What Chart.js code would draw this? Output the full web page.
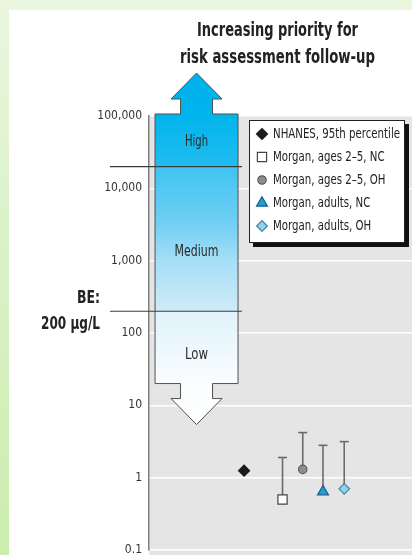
<!DOCTYPE html>
<html>
<head>
<meta charset="utf-8">
<script src="https://cdn.jsdelivr.net/npm/chart.js@4/dist/chart.umd.min.js"></script>
<style>
html, body { margin: 0; padding: 0; }
body { width: 412px; height: 555px; overflow: hidden; position: relative;
       background: linear-gradient(to bottom, #eaf6df 0%, #dcf2ca 40%, #cbedae 100%); }
#panel { position: absolute; left: 9px; top: 10px; width: 403px; height: 545px; background: #fff; }
</style>
</head>
<body>
<div id="panel"><canvas id="beChart" width="403" height="545"></canvas></div>
<script>
// chart values
var seriesLabels = ["NHANES, 95th percentile", "Morgan, ages 2–5, NC", "Morgan, ages 2–5, OH", "Morgan, adults, NC", "Morgan, adults, OH"];
var seriesValues = [1.25, 0.5, 1.3, 0.64, 0.7];
var seriesUpper = [null, 1.9, 4.2, 2.8, 3.15];
var seriesSlots = [4.7, 6.6, 7.6, 8.6, 9.65];
var yTicks = [0.1, 1, 10, 100, 1000, 10000, 100000];
var bandNames = ["Low", "Medium", "High"];
var bandLimits = [20, 200, 20000, 100000];
var bandLabelAt = [50, 1300, 44000];
var beValue = 200;
var titleLines = ["Increasing priority for", "risk assessment follow-up"];
var beLines = ["BE:", "200 μg/L"];

var pointStyles = ['rectRot', 'rect', 'circle', 'triangle', 'rectRot'];
var pointSizes = [5.5, 6.5, 4.2, 6.3, 5.3];
var fillColors = ['#1b1b1b', '#ffffff', '#8e8e8e', '#1e9fd8', '#8fd2f2'];
var edgeColors = ['#1b1b1b', '#444444', '#5a5a5a', '#1d5f86', '#4d7f9a'];

var narrow = '"Liberation Sans Narrow", "DejaVu Sans Condensed", "Liberation Sans", sans-serif';

function drawFit(ctx, text, x, y, width, align) {
    var w = ctx.measureText(text).width;
    var sx = width / w;
    ctx.save();
    ctx.translate(x, y);
    ctx.scale(sx, 1);
    ctx.textAlign = align;
    ctx.fillText(text, 0, 0);
    ctx.restore();
}

var datasets = seriesLabels.map(function (label, i) {
    return {
        type: 'scatter',
        label: label,
        data: [{x: seriesSlots[i], y: seriesValues[i]}],
        pointStyle: pointStyles[i],
        pointRadius: pointSizes[i],
        backgroundColor: fillColors[i],
        borderColor: edgeColors[i],
        borderWidth: 1.2
    };
});
seriesUpper.forEach(function (top, i) {
    if (top == null) return;
    datasets.push({
        type: 'line',
        label: 'range ' + i,
        data: [{x: seriesSlots[i], y: seriesValues[i]}, {x: seriesSlots[i], y: top}],
        borderColor: '#6b6b6b',
        borderWidth: 1.6,
        pointStyle: 'line',
        pointRadius: [0, 4.5],
        pointBorderColor: '#6b6b6b',
        pointBorderWidth: 1.6,
        fill: false
    });
});

var priorityPlugin = {
    id: 'priority',
    beforeDraw: function (chart) {
        var ctx = chart.ctx, a = chart.chartArea;
        ctx.save();
        ctx.fillStyle = '#e5e5e5';
        ctx.fillRect(a.left, a.top, chart.width - a.left, chart.height - a.top);
        ctx.restore();
    },
    beforeDatasetsDraw: function (chart) {
        var ctx = chart.ctx, a = chart.chartArea;
        var xs = chart.scales.x, ys = chart.scales.y;
        var cx = xs.getPixelForValue(2.35);
        var boxW = 41.5, stemW = 16, headW = 25.5, neck = 15, tip = 41;
        var top = ys.getPixelForValue(bandLimits[3]) - 2;
        var bottom = ys.getPixelForValue(bandLimits[0]);
        var hi = ys.getPixelForValue(bandLimits[2]);
        var be = ys.getPixelForValue(bandLimits[1]);
        var y0 = top - tip, y1 = bottom + tip, span = y1 - y0;
        function at(y) { return Math.min(1, Math.max(0, (y - y0) / span)); }

        var g = ctx.createLinearGradient(0, y0, 0, y1);
        g.addColorStop(0, '#00b0ea');
        g.addColorStop(at(top), '#00b4ec');
        g.addColorStop(at(hi - 0.5), '#22bcef');
        g.addColorStop(at(hi + 0.5), '#3ec4f1');
        g.addColorStop(at(ys.getPixelForValue(3000)), '#74d0f4');
        g.addColorStop(at(ys.getPixelForValue(1000)), '#a6def6');
        g.addColorStop(at(be - 0.5), '#cdebf8');
        g.addColorStop(at(be + 0.5), '#e0f3fb');
        g.addColorStop(at(bottom), '#fafdfe');
        g.addColorStop(1, '#ffffff');

        ctx.save();
        ctx.beginPath();
        ctx.moveTo(cx - boxW, top);
        ctx.lineTo(cx - stemW, top);
        ctx.lineTo(cx - stemW, top - neck);
        ctx.lineTo(cx - headW, top - neck);
        ctx.lineTo(cx, top - tip);
        ctx.lineTo(cx + headW, top - neck);
        ctx.lineTo(cx + stemW, top - neck);
        ctx.lineTo(cx + stemW, top);
        ctx.lineTo(cx + boxW, top);
        ctx.lineTo(cx + boxW, bottom);
        ctx.lineTo(cx + stemW, bottom);
        ctx.lineTo(cx + stemW, bottom + neck);
        ctx.lineTo(cx + headW, bottom + neck);
        ctx.lineTo(cx, bottom + tip);
        ctx.lineTo(cx - headW, bottom + neck);
        ctx.lineTo(cx - stemW, bottom + neck);
        ctx.lineTo(cx - stemW, bottom);
        ctx.lineTo(cx - boxW, bottom);
        ctx.closePath();
        ctx.fillStyle = g;
        ctx.fill();
        ctx.strokeStyle = '#505050';
        ctx.lineWidth = 1;
        ctx.stroke();

        // band boundaries
        ctx.strokeStyle = '#3c3c3c';
        ctx.lineWidth = 1.2;
        [hi, be].forEach(function (y) {
            ctx.beginPath();
            ctx.moveTo(a.left - 39, y);
            ctx.lineTo(cx + boxW + 4, y);
            ctx.stroke();
        });

        // band names
        ctx.fillStyle = '#2a2a2a';
        ctx.font = '15.5px ' + narrow;
        ctx.textBaseline = 'middle';
        var nameW = [23, 44, 23];
        bandNames.forEach(function (name, i) {
            drawFit(ctx, name, cx, ys.getPixelForValue(bandLabelAt[i]), nameW[i], 'center');
        });

        // BE label
        ctx.fillStyle = '#222';
        ctx.font = 'bold 17px ' + narrow;
        var beY = ys.getPixelForValue(beValue);
        drawFit(ctx, beLines[0], 91, beY - 13, 23, 'right');
        drawFit(ctx, beLines[1], 91, beY + 13, 59, 'right');

        // title
        ctx.font = 'bold 20px ' + narrow;
        ctx.textBaseline = 'alphabetic';
        drawFit(ctx, titleLines[0], 268.5, 26, 161, 'center');
        drawFit(ctx, titleLines[1], 268.5, 53, 195, 'center');
        ctx.restore();
    },
    afterDraw: function (chart) {
        var ctx = chart.ctx;
        var lx = 240, ly = 110, lw = 156, lh = 123;
        ctx.save();
        ctx.fillStyle = '#111';
        ctx.fillRect(lx + 4, ly + 4, lw, lh);
        ctx.fillStyle = '#fff';
        ctx.fillRect(lx, ly, lw, lh);
        ctx.strokeStyle = '#222';
        ctx.lineWidth = 1;
        ctx.strokeRect(lx + 0.5, ly + 0.5, lw - 1, lh - 1);

        ctx.font = '14.5px ' + narrow;
        ctx.textBaseline = 'middle';
        var sx = 127 / ctx.measureText(seriesLabels[0]).width;
        seriesLabels.forEach(function (label, i) {
            var y = ly + 14 + i * 23;
            ctx.fillStyle = fillColors[i];
            ctx.strokeStyle = edgeColors[i];
            ctx.lineWidth = 1.2;
            Chart.helpers.drawPoint(ctx, {pointStyle: pointStyles[i], radius: pointSizes[i], borderWidth: 1.2, rotation: 0}, lx + 13, y);
            ctx.fillStyle = '#222';
            ctx.save();
            ctx.translate(lx + 24, y);
            ctx.scale(sx, 1);
            ctx.textAlign = 'left';
            ctx.fillText(label, 0, 0);
            ctx.restore();
        });
        ctx.restore();
    }
};

new Chart(document.getElementById('beChart'), {
    type: 'scatter',
    data: { datasets: datasets },
    plugins: [priorityPlugin],
    options: {
        responsive: false,
        animation: false,
        events: [],
        devicePixelRatio: 1,
        layout: { autoPadding: false, padding: { top: 106, bottom: 5, left: 0, right: 0 } },
        plugins: { legend: { display: false }, title: { display: false }, tooltip: { enabled: false } },
        scales: {
            x: { type: 'linear', min: 0, max: 13, display: false },
            y: {
                type: 'logarithmic',
                min: 0.1,
                max: 100000,
                afterBuildTicks: function (scale) {
                    scale.ticks = yTicks.map(function (v) { return {value: v}; });
                },
                afterFit: function (scale) {
                    scale.width = 140;
                    scale.paddingTop = 0;
                    scale.paddingBottom = 0;
                },
                ticks: {
                    padding: 7,
                    color: '#333',
                    font: { family: narrow, size: 12, lineHeight: 1 },
                    callback: function (v) { return Number(v).toLocaleString('en-US'); }
                },
                grid: { color: '#ffffff', lineWidth: 1.5, drawTicks: false },
                border: { color: '#808080', width: 1.5 }
            }
        }
    }
});
</script>
</body>
</html>
